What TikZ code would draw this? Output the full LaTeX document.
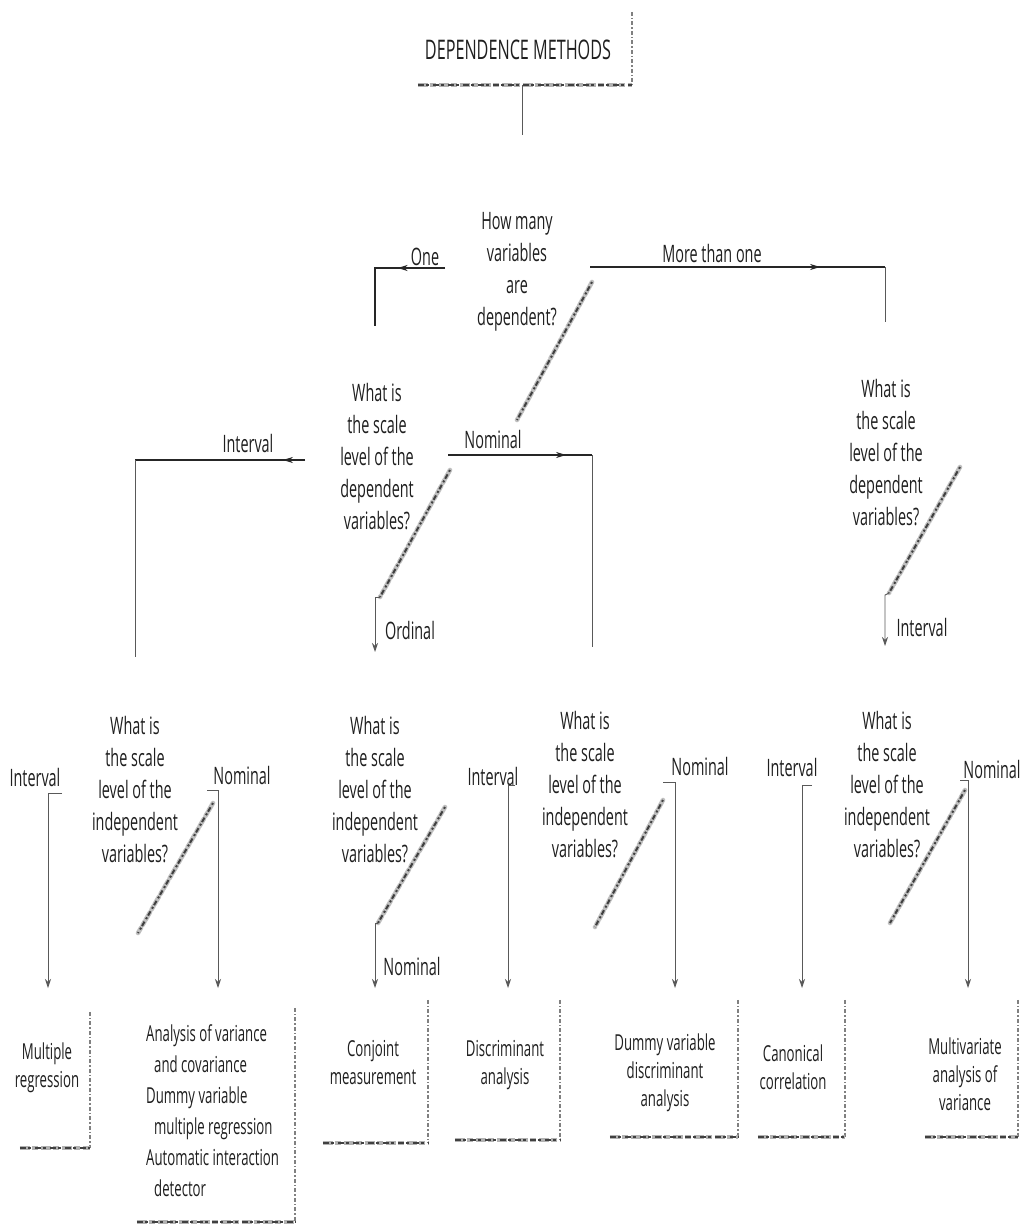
\documentclass[tikz,border=0pt]{standalone}
\usepackage{fontspec}
\setmainfont[FakeStretch=0.6]{Open Sans}
\usetikzlibrary{arrows.meta,decorations.markings}

\begin{document}
\begin{tikzpicture}[x=1pt,y=-1pt,
  txt/.style={font=\fontsize{24}{32}\selectfont, text=black!88, inner sep=0pt, align=center},
  lbl/.style={font=\fontsize{24}{30}\selectfont, text=black!88, inner sep=0pt},
  res/.style={font=\fontsize{22}{28}\selectfont, text=black!88, inner sep=0pt, align=center},
  area/.style={draw=none, inner sep=0pt},
  branch/.style={draw=black!85, line width=1.6pt},
  drop/.style={draw=black!65, line width=0.9pt},
  tip/.style={-{Stealth[length=9pt,width=6pt]}},
  midarrow/.style={postaction={decorate},
    decoration={markings, mark=at position #1 with {\arrow{Stealth[length=10pt,width=6pt]}}}},
  hatchbase/.style={draw=black!25, line width=4.5pt, line cap=round, dash pattern=on 9pt off 2pt on 4pt off 3pt},
  hatchtop/.style={draw=black!75, line width=2pt, dash pattern=on 2pt off 3pt on 5pt off 2pt},
  edgeR/.style={draw=black!50, line width=1.8pt, dash pattern=on 4pt off 2pt on 1.5pt off 2pt},
  edgeBbase/.style={draw=black!30, line width=4pt, dash pattern=on 10pt off 2pt on 6pt off 3pt},
  edgeBtop/.style={draw=black!75, line width=2pt, dash pattern=on 6pt off 2pt on 3pt off 4pt},
]
\useasboundingbox[fill=white] (0,0) rectangle (1021,1230);

% ---------- title ----------
\node[area, minimum width=214, minimum height=73] (titlebox) at (525,48.5) {};
\node[lbl, font=\fontsize{27}{30}\selectfont] (title) at (518,50) {DEPENDENCE METHODS};
\draw[edgeR] (titlebox.north east) -- (titlebox.south east);
\draw[edgeBbase] (titlebox.south west) -- (titlebox.south east);
\draw[edgeBtop] (titlebox.south west) -- (titlebox.south east);
\coordinate (t0) at (522,85);
\coordinate (t1) at (522,135);
\draw[drop] (t0) -- (t1);

% ---------- first question ----------
\node[txt] (q1) at (517,272) {How many\\variables\\are\\dependent?};

\coordinate (oneA) at (445,268);
\coordinate (oneB) at (375,268);
\coordinate (oneC) at (375,326);
\draw[branch, midarrow=0.37] (oneA) -- (oneB) -- (oneC);
\node[lbl] (one) at (425,257) {One};

\coordinate (moreA) at (590,267);
\coordinate (moreB) at (885,267);
\coordinate (moreC) at (885,322);
\draw[branch, midarrow=0.78] (moreA) -- (moreB);
\draw[drop] (moreB) -- (moreC);
\node[lbl] (more) at (712,254) {More than one};

\coordinate (h1a) at (592,282);
\coordinate (h1b) at (517,420);
\draw[hatchbase] (h1a) -- (h1b);
\draw[hatchtop] (h1a) -- (h1b);

% ---------- one dependent variable ----------
\node[txt] (q2) at (377,457) {What is\\the scale\\level of the\\dependent\\variables?};

\coordinate (ivA) at (305,460);
\coordinate (ivB) at (135,460);
\coordinate (ivC) at (135,657);
\draw[branch, midarrow=0.13] (ivA) -- (ivB);
\draw[drop] (ivB) -- (ivC);
\node[lbl] (intv1) at (248,443) {Interval};

\coordinate (nmA) at (448,455);
\coordinate (nmB) at (592,455);
\coordinate (nmC) at (592,647);
\draw[branch, midarrow=0.82] (nmA) -- (nmB);
\draw[drop] (nmB) -- (nmC);
\node[lbl] (nom1) at (493,439) {Nominal};

\coordinate (h2a) at (450,470);
\coordinate (h2b) at (380,597);
\coordinate (ordA) at (375,597);
\coordinate (ordB) at (375,652);
\draw[hatchbase] (h2a) -- (h2b);
\draw[hatchtop] (h2a) -- (h2b);
\draw[drop, tip] (h2b) -- (ordA) -- (ordB);
\node[lbl] (ord) at (410,630) {Ordinal};

% ---------- several dependent variables ----------
\node[txt] (q3) at (886,453) {What is\\the scale\\level of the\\dependent\\variables?};

\coordinate (h3a) at (960,467);
\coordinate (h3b) at (889,593);
\coordinate (iv2A) at (885,595);
\coordinate (iv2B) at (885,646);
\draw[hatchbase] (h3a) -- (h3b);
\draw[hatchtop] (h3a) -- (h3b);
\draw[drop, tip] (h3b) -- (iv2A) -- (iv2B);
\node[lbl] (intv2) at (922,627) {Interval};

% ---------- questions on the independent variables ----------
\node[txt] (qa) at (135,790) {What is\\the scale\\level of the\\independent\\variables?};
\node[txt] (qb) at (375,790) {What is\\the scale\\level of the\\independent\\variables?};
\node[txt] (qc) at (585,785) {What is\\the scale\\level of the\\independent\\variables?};
\node[txt] (qd) at (887,785) {What is\\the scale\\level of the\\independent\\variables?};

% left question
\coordinate (aiT) at (62,793);
\coordinate (aiC) at (48,793);
\coordinate (aiE) at (48,988);
\draw[drop, tip] (aiT) -- (aiC) -- (aiE);
\node[lbl] (ia) at (35,777) {Interval};

\coordinate (ha1) at (213,803);
\coordinate (ha2) at (138,933);
\draw[hatchbase] (ha1) -- (ha2);
\draw[hatchtop] (ha1) -- (ha2);
\coordinate (anT) at (207,790);
\coordinate (anC) at (218,790);
\coordinate (anE) at (218,988);
\draw[drop, tip] (anT) -- (anC) -- (anE);
\node[lbl] (na) at (242,775) {Nominal};

% second question
\coordinate (hb1) at (445,807);
\coordinate (hb2) at (378,923);
\coordinate (bnC) at (375,923);
\coordinate (bnE) at (375,988);
\draw[hatchbase] (hb1) -- (hb2);
\draw[hatchtop] (hb1) -- (hb2);
\draw[drop, tip] (hb2) -- (bnC) -- (bnE);
\node[lbl] (nb) at (412,966) {Nominal};

\coordinate (biT) at (515,785);
\coordinate (biC) at (508,785);
\coordinate (biE) at (508,988);
\draw[drop, tip] (biT) -- (biC) -- (biE);
\node[lbl] (ib) at (493,776) {Interval};

% third question
\coordinate (hc1) at (663,800);
\coordinate (hc2) at (595,927);
\draw[hatchbase] (hc1) -- (hc2);
\draw[hatchtop] (hc1) -- (hc2);
\coordinate (cnT) at (663,782);
\coordinate (cnC) at (675,782);
\coordinate (cnE) at (675,988);
\draw[drop, tip] (cnT) -- (cnC) -- (cnE);
\node[lbl] (nc) at (700,766) {Nominal};

% fourth question
\coordinate (diT) at (812,785);
\coordinate (diC) at (802,785);
\coordinate (diE) at (802,988);
\draw[drop, tip] (diT) -- (diC) -- (diE);
\node[lbl] (id) at (792,767) {Interval};

\coordinate (hd1) at (965,790);
\coordinate (hd2) at (890,923);
\draw[hatchbase] (hd1) -- (hd2);
\draw[hatchtop] (hd1) -- (hd2);
\coordinate (dnT) at (960,780);
\coordinate (dnC) at (968,780);
\coordinate (dnE) at (968,988);
\draw[drop, tip] (dnT) -- (dnC) -- (dnE);
\node[lbl] (nd) at (992,769) {Nominal};

% ---------- methods ----------
\node[area, minimum width=70, minimum height=136] (mrbox) at (55,1080) {};
\node[res] (mr) at (47,1068) {Multiple\\regression};

\node[area, minimum width=158, minimum height=214] (avbox) at (216,1115) {};
\node[res, align=left, anchor=north west, font=\fontsize{22}{31}\selectfont]
  (av) at (146,1024) {Analysis of variance\\\hspace*{8pt}and covariance\\Dummy variable\\\hspace*{8pt}multiple regression\\Automatic interaction\\\hspace*{8pt}detector};

\node[area, minimum width=105, minimum height=143] (cmbox) at (375.5,1071.5) {};
\node[res] (cm) at (373,1063) {Conjoint\\measurement};

\node[area, minimum width=105, minimum height=140] (dabox) at (507.5,1070) {};
\node[res] (da) at (505,1065) {Discriminant\\analysis};

\node[area, minimum width=128, minimum height=137] (dvbox) at (674,1068.5) {};
\node[res] (dv) at (665,1073) {Dummy variable\\discriminant\\analysis};

\node[area, minimum width=87, minimum height=137] (ccbox) at (801.5,1068.5) {};
\node[res] (cc) at (793,1067) {Canonical\\correlation};

\node[area, minimum width=93, minimum height=137] (mvbox) at (971.5,1068.5) {};
\node[res] (mv) at (965,1074) {Multivariate\\analysis of\\variance};

% right and bottom edges of the method boxes
\foreach \b in {mrbox,avbox,cmbox,dabox,dvbox,ccbox,mvbox}{
  \draw[edgeR] (\b.north east) -- (\b.south east);
  \draw[edgeBbase] (\b.south west) -- (\b.south east);
  \draw[edgeBtop] (\b.south west) -- (\b.south east);
}
\end{tikzpicture}
\end{document}
